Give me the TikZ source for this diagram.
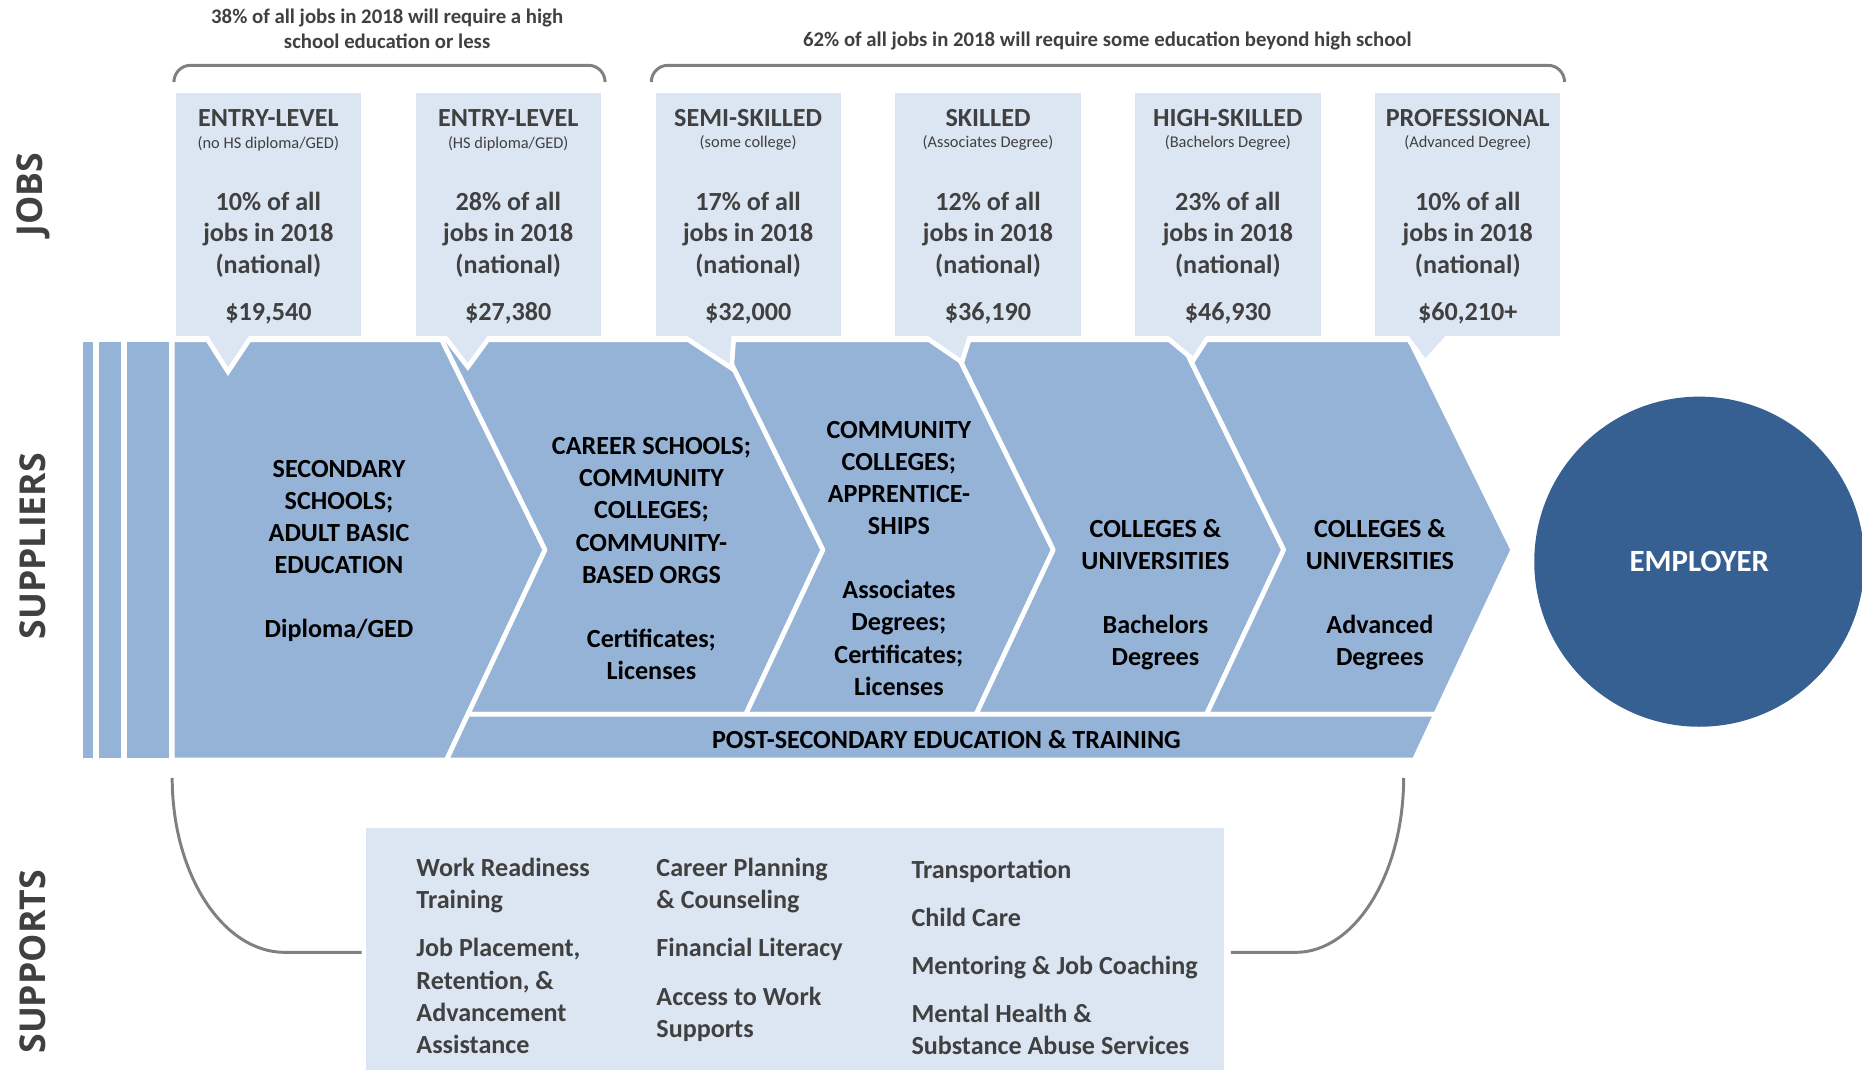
\documentclass[tikz,border=0pt]{standalone}
\usepackage{fontspec}
\setmainfont{Carlito}
\newfontfamily\sidefont{Open Sans}
\definecolor{chev}{HTML}{95B3D7}
\definecolor{pale}{HTML}{DCE6F2}
\definecolor{ink}{HTML}{404040}
\definecolor{employer}{HTML}{376092}
\definecolor{brace}{HTML}{808080}

\begin{document}
\begin{tikzpicture}[x=1pt,y=-1pt]
\tikzstyle{box}=[fill=pale,minimum width=156pt,minimum height=205pt,inner sep=0pt]
\tikzstyle{jobtip}=[fill=pale,draw=white,line width=4pt]
\tikzstyle{stage}=[fill=chev,draw=white,line width=4pt,line join=round]
\tikzstyle{title}=[inner sep=0pt,text=ink,font=\fontsize{22}{27}\selectfont\bfseries]
\tikzstyle{degree}=[inner sep=0pt,text=ink,font=\fontsize{13.8}{16}\selectfont]
\tikzstyle{share}=[inner sep=0pt,text=ink,align=center,font=\fontsize{22}{26.7}\selectfont\bfseries]
\tikzstyle{supplier}=[inner sep=0pt,align=center,font=\fontsize{22}{27}\selectfont\bfseries]
\tikzstyle{support}=[inner sep=0pt,anchor=north west,align=left,text=ink,font=\fontsize{22}{27}\selectfont\bfseries]
\tikzstyle{note}=[inner sep=0pt,align=center,text=ink,font=\fontsize{17.5}{21.6}\selectfont\bfseries]
\tikzstyle{sidelabel}=[inner sep=0pt,rotate=90,text=ink,font=\fontsize{30}{36}\sidefont\bfseries]
\tikzstyle{bracket}=[draw=brace,line width=2.5pt]
\useasboundingbox (0,0) rectangle (1568,901);

% supplier chevrons
\fill[chev] (70,288) rectangle (78,638);
\fill[chev] (83,288) rectangle (102,638);
\fill[chev] (107,288) rectangle (142,638);
\draw[stage] (145,286) -- (372,286) -- (459,463) -- (376,640) -- (145,640) -- cycle;
\draw[stage] (372,286) -- (606,286) -- (693,463) -- (628,601.5) -- (394,601.5) -- (459,463) -- cycle;
\draw[stage] (606,286) -- (800,286) -- (887,463) -- (822,601.5) -- (628,601.5) -- (693,463) -- cycle;
\draw[stage] (800,286) -- (994,286) -- (1081,463) -- (1016,601.5) -- (822,601.5) -- (887,463) -- cycle;
\draw[stage] (994,286) -- (1187,286) -- (1274,463) -- (1209,601.5) -- (1016,601.5) -- (1081,463) -- cycle;
\draw[stage] (394,601.5) -- (1209,601.5) -- (1191,640) -- (376,640) -- cycle;

% jobs
\draw[jobtip] (173,283) -- (192,313) -- (212,283);
\draw[jobtip] (374,283) -- (394,309) -- (413,283);
\draw[jobtip] (575,283) -- (616,310) -- (618,283);
\draw[jobtip] (778,283) -- (810,305) -- (817,283);
\draw[jobtip] (981,283) -- (1005,303) -- (1018,283);
\draw[jobtip] (1184,283) -- (1200,305) -- (1220,283);
\path (226,180.5) node[box](b1){} (428,180.5) node[box](b2){} (630,180.5) node[box](b3){}
  (832,180.5) node[box](b4){} (1034,180.5) node[box](b5){} (1236,180.5) node[box](b6){};

\path (226,99.6) node[title](t1){ENTRY-LEVEL} (428,99.6) node[title](t2){ENTRY-LEVEL}
  (630,99.6) node[title](t3){SEMI-SKILLED} (832,99.6) node[title](t4){SKILLED}
  (1034,99.6) node[title](t5){HIGH-SKILLED} (1236,99.6) node[title](t6){PROFESSIONAL};
\path (226,120.7) node[degree](d1){(no HS diploma/GED)} (428,120.7) node[degree](d2){(HS diploma/GED)}
  (630,120.7) node[degree](d3){(some college)} (832,120.7) node[degree](d4){(Associates Degree)}
  (1034,120.7) node[degree](d5){(Bachelors Degree)} (1236,120.7) node[degree](d6){(Advanced Degree)};
\path (226,197.5) node[share](s1){10\% of all\\jobs in 2018\\(national)}
  (428,197.5) node[share](s2){28\% of all\\jobs in 2018\\(national)}
  (630,197.5) node[share](s3){17\% of all\\jobs in 2018\\(national)}
  (832,197.5) node[share](s4){12\% of all\\jobs in 2018\\(national)}
  (1034,197.5) node[share](s5){23\% of all\\jobs in 2018\\(national)}
  (1236,197.5) node[share](s6){10\% of all\\jobs in 2018\\(national)};
\path (226,264) node[title](w1){\$19,540} (428,264) node[title](w2){\$27,380}
  (630,264) node[title](w3){\$32,000} (832,264) node[title](w4){\$36,190}
  (1034,264) node[title](w5){\$46,930} (1236,264) node[title](w6){\$60,210+};

\draw[bracket,rounded corners=14pt] (146.5,68) -- (146.5,55) -- (509.5,55) -- (509.5,68);
\draw[bracket,rounded corners=14pt] (548.5,68) -- (548.5,55) -- (1317.5,55) -- (1317.5,68);
\path (326,24.3) node[note](n1){38\% of all jobs in 2018 will require a high\\school education or less}
  (932.5,34.8) node[note](n2){62\% of all jobs in 2018 will require some education beyond high school};

% suppliers
\path (285.5,464) node[supplier](c1){SECONDARY\\SCHOOLS;\\ADULT BASIC\\EDUCATION\\[27pt]Diploma/GED}
  (548.6,470.4) node[supplier](c2){CAREER SCHOOLS;\\COMMUNITY\\COLLEGES;\\COMMUNITY-\\BASED ORGS\\[27pt]Certificates;\\Licenses}
  (757,470.2) node[supplier](c3){COMMUNITY\\COLLEGES;\\APPRENTICE-\\SHIPS\\[27pt]Associates\\Degrees;\\Certificates;\\Licenses}
  (973,500.9) node[supplier](c4){COLLEGES \&\\UNIVERSITIES\\[27pt]Bachelors\\Degrees}
  (1162,500.9) node[supplier](c5){COLLEGES \&\\UNIVERSITIES\\[27pt]Advanced\\Degrees}
  (797,623) node[supplier](c6){POST-SECONDARY EDUCATION \& TRAINING};

\node[circle,fill=employer,minimum size=278pt,inner sep=0pt,text=white,font=\fontsize{26}{30}\selectfont\bfseries] (e1) at (1431,473) {EMPLOYER};

% supports
\path (669.75,800) node[fill=pale,minimum width=722.5pt,minimum height=206pt,inner sep=0pt](sup){};
\path (350.5,722.7) node[support](u1){Work Readiness\\Training\\[13.5pt]Job Placement,\\Retention, \&\\Advancement\\Assistance}
  (552.6,722.7) node[support](u2){Career Planning\\\& Counseling\\[13.5pt]Financial Literacy\\[13.5pt]Access to Work\\Supports}
  (767.4,723.9) node[support](u3){Transportation\\[13.5pt]Child Care\\[13.5pt]Mentoring \& Job Coaching\\[13.5pt]Mental Health \&\\Substance Abuse Services};
\coordinate (l1) at (145,655);
\coordinate (l2) at (304.5,802);
\coordinate (r1) at (1182,655);
\coordinate (r2) at (1036.5,802);
\draw[bracket] (l1) .. controls (145,736) and (187.5,802) .. (240,802) -- (l2);
\draw[bracket] (r1) .. controls (1182,736) and (1141,802) .. (1091,802) -- (r2);

\path (28,164) node[sidelabel](a1){JOBS} (28,460) node[sidelabel](a2){SUPPLIERS} (28,810) node[sidelabel](a3){SUPPORTS};
\end{tikzpicture}
\end{document}
